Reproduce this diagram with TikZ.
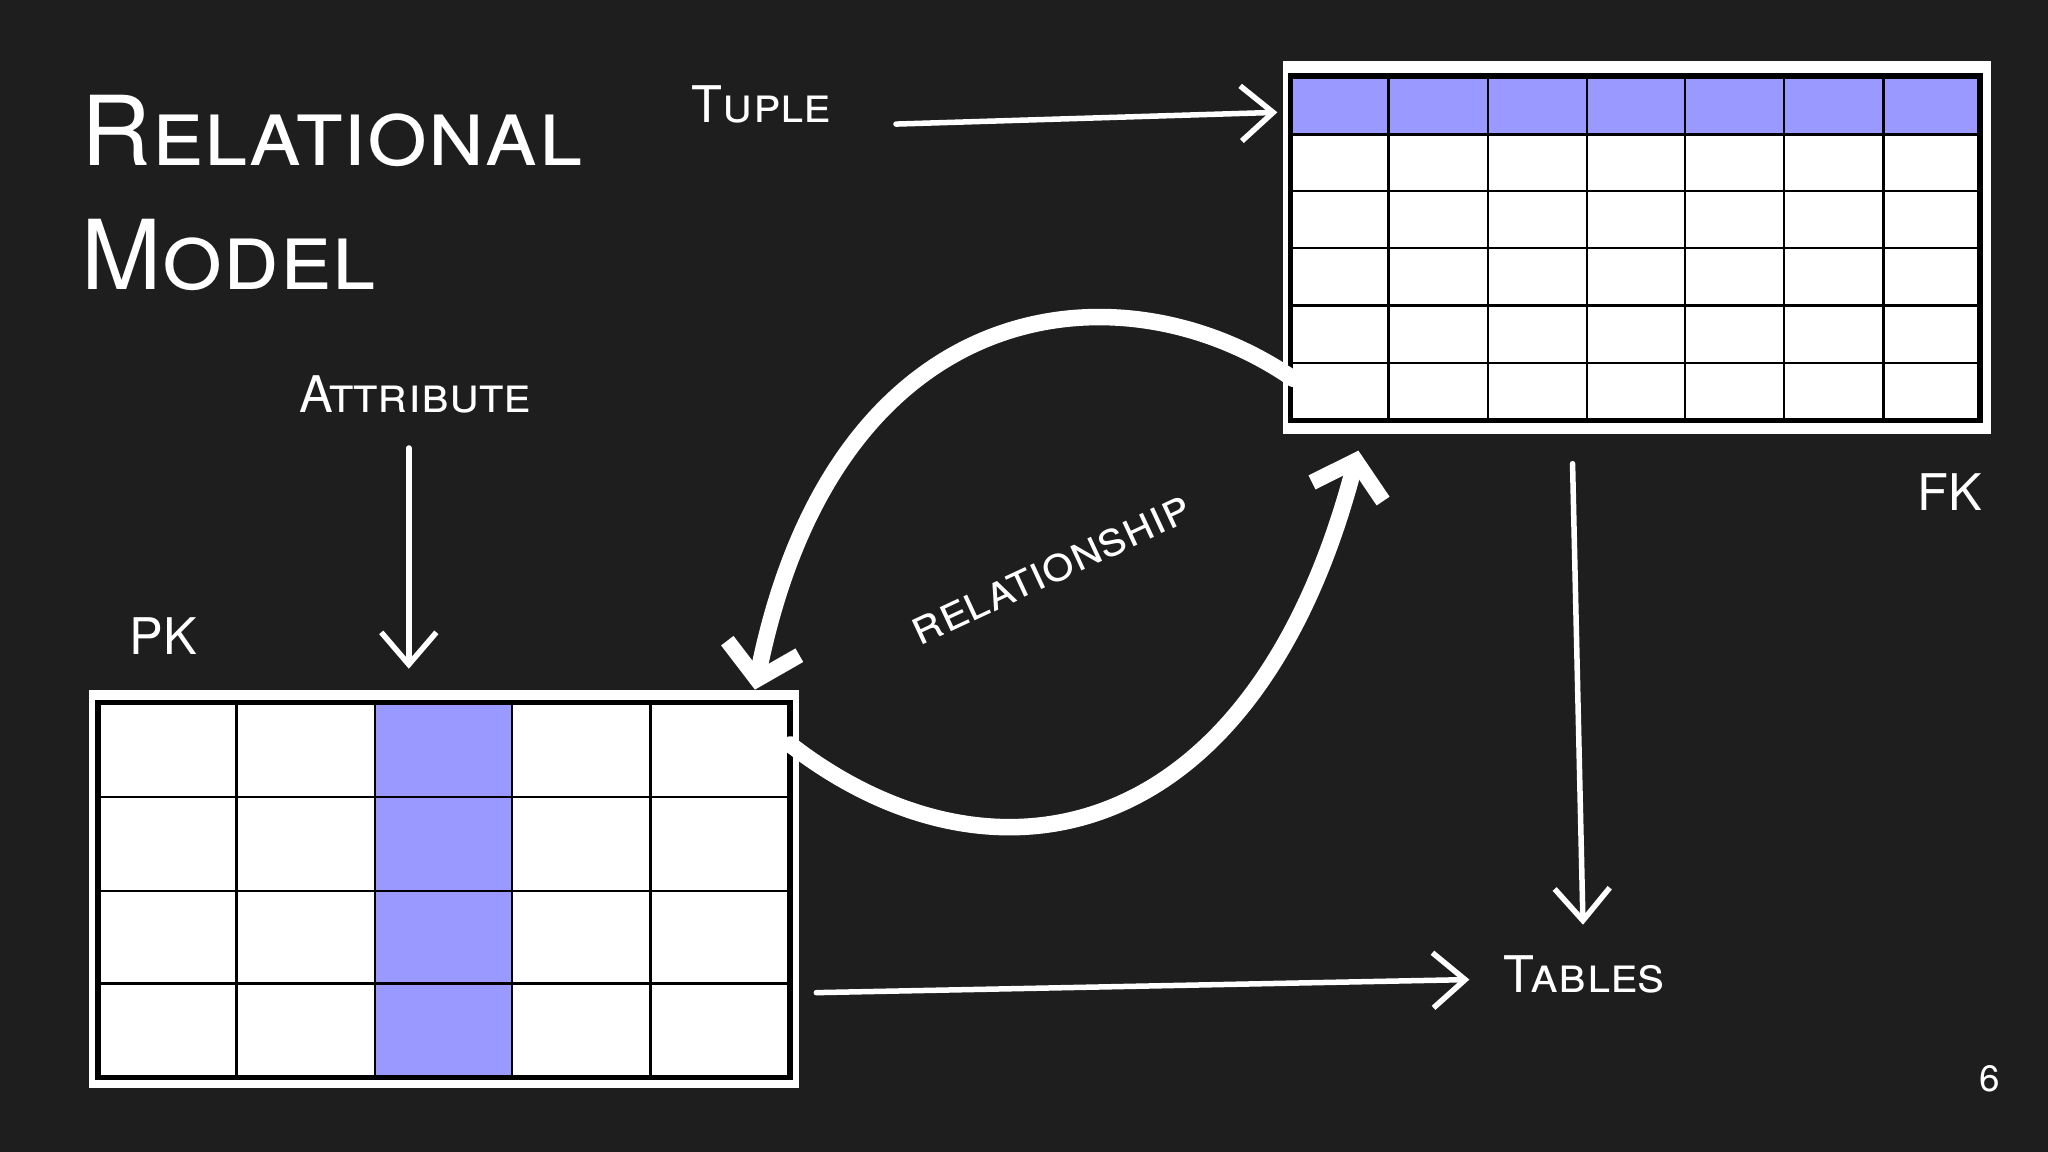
\documentclass[tikz,border=0pt]{standalone}
\usepackage{fontspec}
\setmainfont{TeX Gyre Heros}
\usetikzlibrary{arrows.meta}
\definecolor{bg}{HTML}{1E1E1E}
\definecolor{hl}{HTML}{9999FF}
\tikzset{
  lbl/.style={text=white,font=\fontsize{11}{13}\selectfont\scshape,inner sep=0pt},
  ttl/.style={text=white,font=\fontsize{21}{24}\selectfont\scshape,inner sep=0pt,anchor=west},
  chalk/.style={white,line width=1.2pt,line cap=round,-{Straight Barb[length=7pt,width=12pt,line width=1.2pt]}},
  thick chalk/.style={white,line width=3.6pt,line cap=round,-{Straight Barb[length=7pt,width=16pt,line width=3.4pt]}},
  cellb/.style={draw=black,line width=0.5pt}
}
\begin{document}
\begin{tikzpicture}[x=0.01cm,y=-0.01cm]
\fill[bg] (0,0) rectangle (1568,882);
\useasboundingbox (0,0) rectangle (1568,882);
% title
\node[ttl] (t1) at (62,100) {Relational};
\node[ttl] (t2) at (62,195) {Model};
% labels
\node[lbl] (tuple) at (583,80) {Tuple};
\node[lbl] (attr) at (318,302) {Attribute};
\node[lbl] (pk) at (125,487) {PK};
\node[lbl] (fk) at (1493,377) {FK};
\node[lbl,rotate=25] (rel) at (805,437) {relationship};
\node[lbl] (tables) at (1213,746) {Tables};
\node[text=white,font=\fontsize{8}{10}\selectfont,inner sep=0pt] (pg) at (1523,826) {6};
% top-right table
\fill[white] (982,47) rectangle (1524,332);
\fill[hl] (988,58) rectangle (1516,103);
\foreach \x in {988,1063,1139,1215,1290,1366,1442,1516} \draw[cellb] (\x,58) -- (\x,322);
\foreach \y in {58,103,146,190,234,278,322} \draw[cellb] (988,\y) -- (1516,\y);
\draw[black,line width=1.2pt] (988,58) rectangle (1516,322);
\coordinate (T) at (1040,345);
\coordinate (Tl) at (990,290);
% bottom-left table
\fill[white] (68,528) rectangle (612,833);
\fill[hl] (287,538) rectangle (392,825);
\foreach \x in {75,181,287,392,498,605} \draw[cellb] (\x,538) -- (\x,825);
\foreach \y in {538,610,682,753,825} \draw[cellb] (75,\y) -- (605,\y);
\draw[black,line width=1.2pt] (75,538) rectangle (605,825);
% arrows
\coordinate (a1) at (686,95); \coordinate (a2) at (978,86);
\draw[chalk] (a1) -- (a2);
\coordinate (b1) at (313,343); \coordinate (b2) at (313,512);
\draw[chalk] (b1) -- (b2);
\coordinate (c1) at (1204,355); \coordinate (c2) at (1212,708);
\draw[chalk] (c1) -- (c2);
\coordinate (d1) at (625,760); \coordinate (d2) at (1125,750);
\draw[chalk] (d1) -- (d2);
\coordinate (e2) at (578,528);
\draw[thick chalk] (Tl) .. controls (860,200) and (640,220) .. (e2);
\coordinate (f1) at (605,570);
\draw[thick chalk] (f1) .. controls (760,690) and (960,650) .. (T);
\end{tikzpicture}
\end{document}
